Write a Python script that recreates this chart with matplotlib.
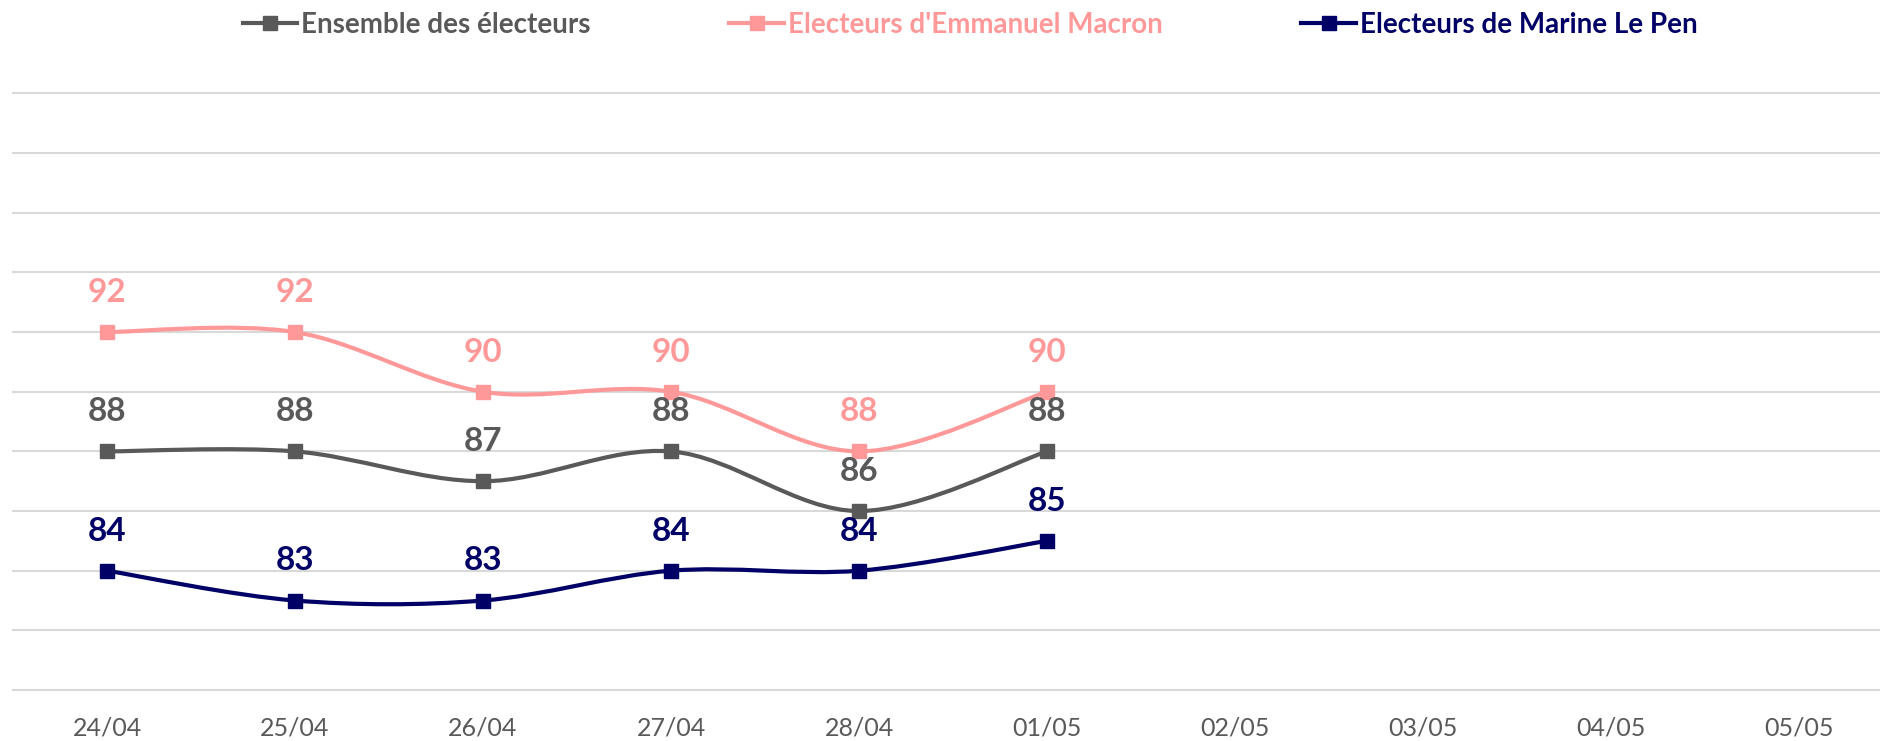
import matplotlib
matplotlib.use("Agg")
import matplotlib.pyplot as plt
from matplotlib.path import Path
from matplotlib.patches import PathPatch
from matplotlib.lines import Line2D
import numpy as np

plt.rcParams['font.family'] = ['Lato', 'DejaVu Sans']

dates = ['24/04', '25/04', '26/04', '27/04', '28/04', '01/05', '02/05', '03/05', '04/05', '05/05']
ensemble = [88, 88, 87, 88, 86, 88]
macron = [92, 92, 90, 90, 88, 90]
lepen = [84, 83, 83, 84, 84, 85]

names = ['Ensemble des électeurs', "Electeurs d'Emmanuel Macron", 'Electeurs de Marine Le Pen']
colors = ['#595959', '#FF9999', '#000066']
series = [ensemble, macron, lepen]


def smooth_path(xs, ys):
    # excel-like smoothed line : cubic bezier through each point
    pts = np.column_stack([xs, ys]).astype(float)
    n = len(pts)
    verts = [pts[0]]
    codes = [Path.MOVETO]
    for i in range(n - 1):
        p0 = pts[max(i - 1, 0)]
        p1 = pts[i]
        p2 = pts[i + 1]
        p3 = pts[min(i + 2, n - 1)]
        verts += [p1 + (p2 - p0) / 6, p2 - (p3 - p1) / 6, p2]
        codes += [Path.CURVE4] * 3
    return Path(verts, codes)


fig = plt.figure(figsize=(18.8, 7.41), dpi=100)
ax = fig.add_axes([13 / 1880, 1 - 690 / 741, 1880 / 1880, (690 - 93.5) / 741])

x = np.arange(len(dates))
for k, (vals, col) in enumerate(zip(series, colors)):
    xs = x[:len(vals)]
    ax.add_patch(PathPatch(smooth_path(xs, vals), facecolor='none', edgecolor=col,
                           lw=3, zorder=3, capstyle='round'))
    ax.plot(xs, vals, ls='none', marker='s', ms=10.5, color=col, zorder=4)
    for i, v in enumerate(vals):
        ax.annotate(str(v), (xs[i], v), xytext=(0, 28.5), textcoords='offset points',
                    ha='center', va='center', fontsize=24, fontweight='bold', color=col, zorder=5)

ax.set_xlim(-0.5, len(dates) - 0.5)
ax.set_ylim(80, 100)
ax.set_yticks(np.arange(80, 101, 2))
ax.set_xticks(x)
ax.set_xticklabels(dates)
ax.grid(axis='y', color='#D9D9D9', lw=1.5)
for gl in ax.get_ygridlines():
    gl.set_clip_on(False)
ax.set_axisbelow(True)
ax.tick_params(axis='y', left=False, labelleft=False)
ax.tick_params(axis='x', length=0, pad=19, labelsize=18, labelcolor='#595959')
for s in ax.spines.values():
    s.set_visible(False)

handles = [Line2D([], [], color=c, lw=3, marker='s', ms=10.5) for c in colors]
leg = fig.legend(handles, names, loc='center', bbox_to_anchor=(0.516, 1 - 25 / 741), ncol=3,
                 frameon=False, handlelength=1.95, handletextpad=0.15, columnspacing=5.0,
                 prop={'size': 20, 'weight': 'bold'}, labelcolor='linecolor')

fig.savefig('out.png', dpi=100)
